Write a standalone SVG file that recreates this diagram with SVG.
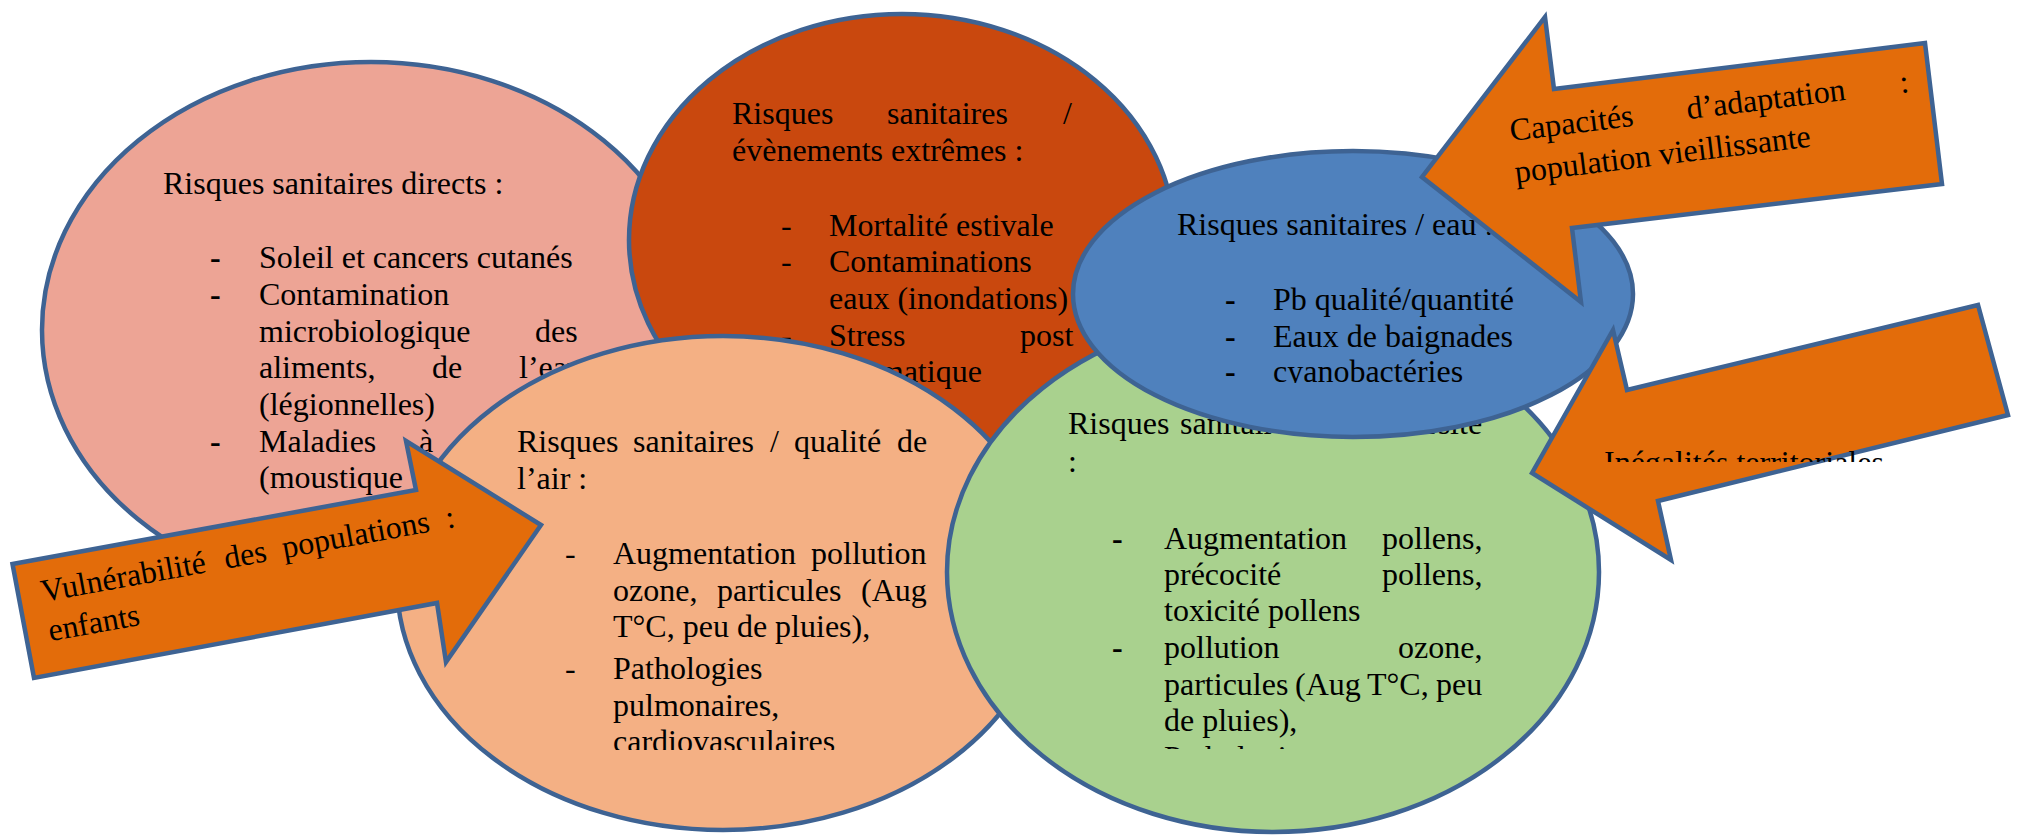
<svg xmlns="http://www.w3.org/2000/svg" width="2022" height="835" viewBox="0 0 2022 835">
<defs>
<style>
.e{stroke:#3E6393;stroke-width:4.5}
.a{fill:#E36C0A;stroke:#3E6393;stroke-width:4.5;stroke-linejoin:miter}
text{font-family:"Liberation Serif","Times New Roman",serif;font-size:32px;fill:#000}
.b{font-weight:bold}
</style>
<clipPath id="clipPeach"><rect x="400" y="300" width="620" height="450"/></clipPath>
<clipPath id="clipGreen"><rect x="1000" y="380" width="560" height="369"/></clipPath>
<clipPath id="clipBlue"><rect x="1100" y="150" width="500" height="233"/></clipPath>
<clipPath id="clipIneg"><rect x="1590" y="420" width="330" height="42"/></clipPath>
</defs>
<rect width="2022" height="835" fill="#ffffff"/>

<g id="node-directs">
<ellipse class="e" cx="371" cy="330" rx="329" ry="268" fill="#EDA495"/>
<text x="163" y="194">Risques sanitaires directs :</text>
<text class="b" x="210" y="268">-</text>
<text class="b" x="210" y="305">-</text>
<text class="b" x="210" y="452">-</text>
<text x="259" y="268">Soleil et cancers cutanés</text>
<text x="259" y="305">Contamination</text>
<text y="342"><tspan x="259">microbiologique</tspan><tspan x="535">des</tspan></text>
<text y="378"><tspan x="259">aliments,</tspan><tspan x="432">de</tspan><tspan x="519">l’eau</tspan></text>
<text x="259" y="415">(légionnelles)</text>
<text y="452"><tspan x="259">Maladies</tspan><tspan x="419">à</tspan></text>
<text x="259" y="488">(moustique</text>
</g>

<g id="node-extremes">
<ellipse class="e" cx="902" cy="240" rx="273" ry="226" fill="#C9480E"/>
<text y="124"><tspan x="732">Risques</tspan><tspan x="887">sanitaires</tspan><tspan x="1063">/</tspan></text>
<text x="732" y="161">évènements extrêmes :</text>
<text x="781" y="236">-</text>
<text x="781" y="272">-</text>
<text x="781" y="346">-</text>
<text x="829" y="236">Mortalité estivale</text>
<text x="829" y="272">Contaminations</text>
<text x="829" y="309">eaux (inondations)</text>
<text y="346"><tspan x="829">Stress</tspan><tspan x="1020">post</tspan></text>
<text x="829" y="382">traumatique</text>
</g>

<g id="node-air">
<ellipse class="e" cx="723" cy="583" rx="326" ry="247" fill="#F4B084"/>
<g clip-path="url(#clipPeach)">
<text y="452"><tspan x="517">Risques</tspan><tspan x="633">sanitaires</tspan><tspan x="770">/</tspan><tspan x="794">qualité</tspan><tspan x="897">de</tspan></text>
<text x="517" y="489">l’air :</text>
<text x="565" y="564">-</text>
<text x="565" y="679">-</text>
<text y="564"><tspan x="613">Augmentation</tspan><tspan x="811">pollution</tspan></text>
<text y="601"><tspan x="613">ozone,</tspan><tspan x="717">particules</tspan><tspan x="861">(Aug</tspan></text>
<text x="613" y="637">T°C, peu de pluies),</text>
<text x="613" y="679">Pathologies</text>
<text x="613" y="716">pulmonaires,</text>
<text x="613" y="752">cardiovasculaires</text>
</g>
</g>

<g id="node-biodiversite">
<ellipse class="e" cx="1273" cy="572" rx="326" ry="260" fill="#A9D18E"/>
<g clip-path="url(#clipGreen)">
<text y="434"><tspan x="1068">Risques</tspan><tspan x="1180">sanitaires</tspan><tspan x="1311">/</tspan><tspan x="1331">biodiversité</tspan></text>
<text x="1068" y="472">:</text>
<text class="b" x="1112" y="549">-</text>
<text class="b" x="1112" y="658">-</text>
<text y="549"><tspan x="1164">Augmentation</tspan><tspan x="1382">pollens,</tspan></text>
<text y="585"><tspan x="1164">précocité</tspan><tspan x="1382">pollens,</tspan></text>
<text x="1164" y="621">toxicité pollens</text>
<text y="658"><tspan x="1164">pollution</tspan><tspan x="1398">ozone,</tspan></text>
<text y="695"><tspan x="1164">particules</tspan><tspan x="1295">(Aug</tspan><tspan x="1367">T°C,</tspan><tspan x="1436">peu</tspan></text>
<text x="1164" y="731">de pluies),</text>
<text x="1164" y="768">Pathologies</text>
</g>
</g>

<g id="node-eau">
<ellipse class="e" cx="1353" cy="294" rx="280" ry="143" fill="#4F81BD"/>
<g clip-path="url(#clipBlue)">
<text x="1177" y="235">Risques sanitaires / eau :</text>
<text class="b" x="1225" y="310">-</text>
<text class="b" x="1225" y="347">-</text>
<text class="b" x="1225" y="382">-</text>
<text x="1273" y="310">Pb qualité/quantité</text>
<text x="1273" y="347">Eaux de baignades</text>
<text x="1273" y="382">cyanobactéries</text>
</g>
</g>

<g id="connectors">
<g id="arrow-vulnerabilite">
<polygon class="a" points="12.5,564 416,490 406,441 541,525 446,662 437,603 34,678"/>
<g transform="translate(43,602) rotate(-10.3)">
<text y="0"><tspan x="0">Vulnérabilité</tspan><tspan x="186">des</tspan><tspan x="245">populations</tspan><tspan x="411">:</tspan></text>
<text x="0" y="40">enfants</text>
</g>
</g>
<g id="arrow-capacites">
<polygon class="a" points="1422,177 1545,17 1554,89 1925,43 1942,184 1572,228 1581,302"/>
<g transform="translate(1511,141) rotate(-7)">
<text y="0"><tspan x="0">Capacités</tspan><tspan x="178">d’adaptation</tspan><tspan x="393">:</tspan></text>
<text x="0" y="42">population vieillissante</text>
</g>
</g>
<g id="arrow-inegalites">
<polygon class="a" points="1532,473 1613,330 1627,390 1978,305 2008,415 1658,501 1671,560"/>
<g clip-path="url(#clipIneg)">
<text x="1604" y="473">Inégalités territoriales</text>
</g>
</g>
</g>
</svg>
